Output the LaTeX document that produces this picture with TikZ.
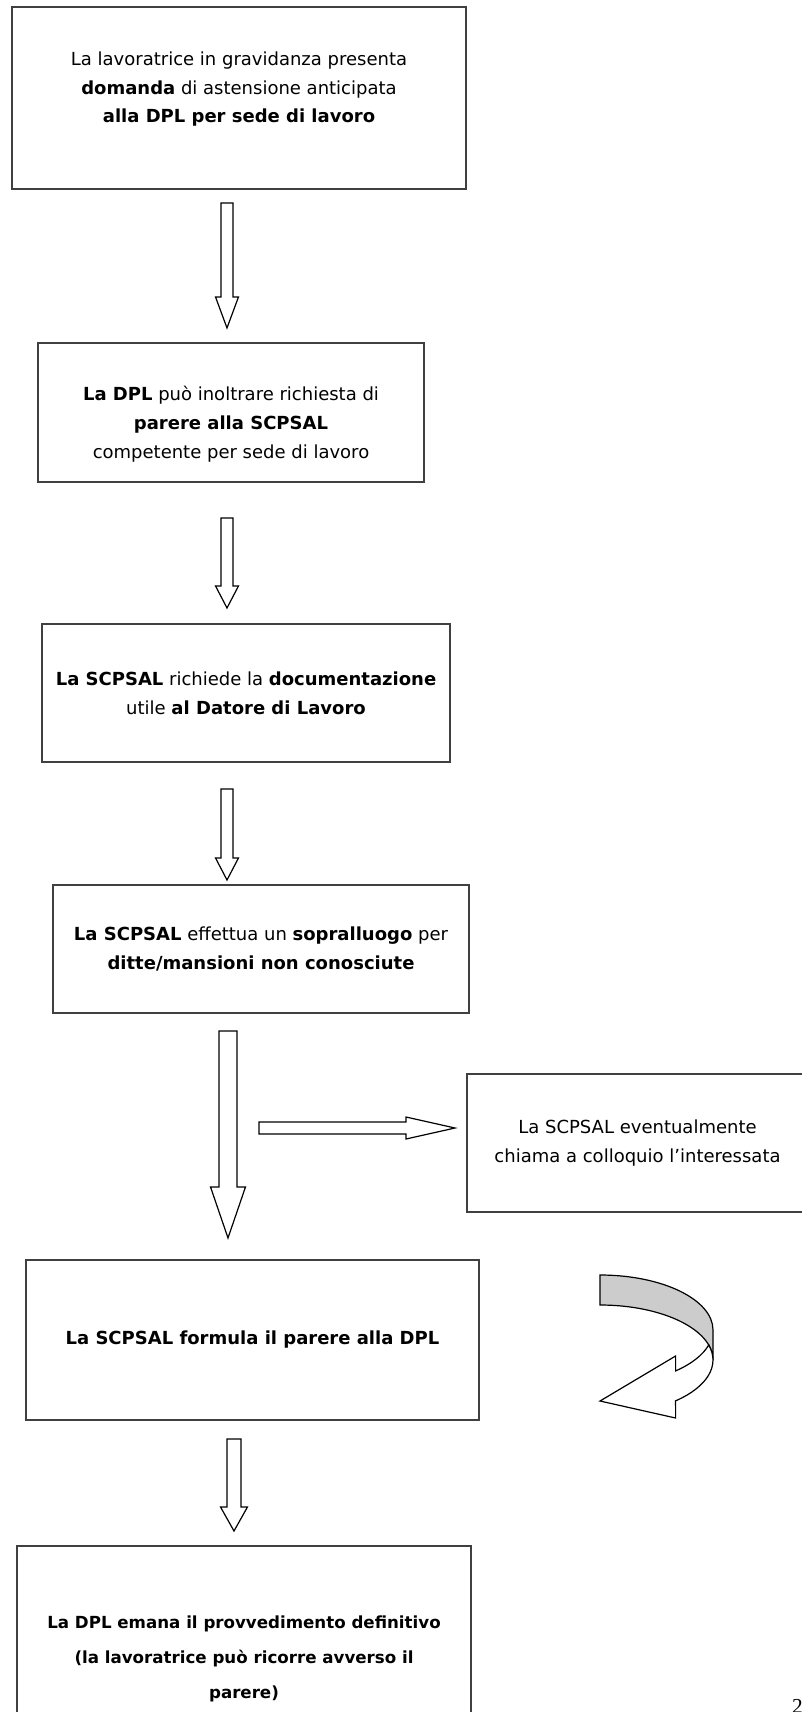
\documentclass[tikz,border=0pt]{standalone}
\usepackage{fontspec}
\setmainfont{DejaVu Sans}
\newfontfamily\pagefont{Liberation Serif}
\usetikzlibrary{calc}

\tikzset{
    stepbox/.style={draw=black!75, line width=0.8pt, align=center, inner sep=0pt,
        font=\fontsize{13.5}{21.5}\selectfont},
    blockarrow/.style={draw=black, fill=white, line width=0.9pt, line join=miter},
}

%% hollow block arrow: start, tip, half shaft width, half head width, head length
\newcommand{\blockarrow}[5]{%
    \coordinate (hb) at ($(#2)!#5!(#1)$);
    \draw[blockarrow] ($(#1)!#3!90:(#2)$) -- ($(hb)!#3!90:(#2)$) -- ($(hb)!#4!90:(#2)$)
        -- (#2) -- ($(hb)!#4!-90:(#2)$) -- ($(hb)!#3!-90:(#2)$) -- ($(#1)!#3!-90:(#2)$) -- cycle;
}

\begin{document}
\begin{tikzpicture}[x=0.75pt, y=-0.75pt]
    \useasboundingbox (0,0) rectangle (802,1712);

    %% the boxes of the procedure
    \node[stepbox, minimum width=340.5pt, minimum height=136.5pt] (domanda) at (239,98)
        {La lavoratrice in gravidanza presenta\\ \textbf{domanda} di astensione anticipata\\ \textbf{alla DPL per sede di lavoro}\rule[-16pt]{0pt}{0pt}};
    \node[stepbox, minimum width=289.5pt, minimum height=104.25pt] (richiesta) at (231,412.5)
        {\rule{0pt}{28.5pt}\textbf{La DPL} può inoltrare richiesta di\\ \textbf{parere alla SCPSAL}\\ competente per sede di lavoro};
    \node[stepbox, minimum width=306pt, minimum height=103.5pt] (documenti) at (246,693)
        {\textbf{La SCPSAL} richiede la \textbf{documentazione}\\ utile \textbf{al Datore di Lavoro}};
    \node[stepbox, minimum width=312pt, minimum height=96pt] (sopralluogo) at (261,949)
        {\textbf{La SCPSAL} effettua un \textbf{sopralluogo} per\\ \textbf{ditte/mansioni non conosciute}};
    \node[stepbox, minimum width=255.75pt, minimum height=103.5pt] (colloquio) at (637.5,1143)
        {La SCPSAL eventualmente\\ chiama a colloquio l’interessata};
    \node[stepbox, minimum width=339.75pt, minimum height=120pt] (parere) at (252.5,1340)
        {\textbf{La SCPSAL formula il parere alla DPL}};
    \node[stepbox, minimum width=340.5pt, minimum height=169.5pt, font=\fontsize{12.5}{26}\selectfont] (provvedimento) at (244,1659)
        {\textbf{La DPL emana il provvedimento definitivo}\\ \textbf{(la lavoratrice può ricorre avverso il}\\ \textbf{parere)}};

    %% block arrows between the boxes
    \coordinate (a1s) at (227,203);   \coordinate (a1t) at (227,328);
    \coordinate (a2s) at (227,518);   \coordinate (a2t) at (227,608);
    \coordinate (a3s) at (227,789);   \coordinate (a3t) at (227,880);
    \coordinate (a4s) at (228,1031);  \coordinate (a4t) at (228,1238);
    \coordinate (a5s) at (259,1128);  \coordinate (a5t) at (455,1128);
    \coordinate (a6s) at (234,1439);  \coordinate (a6t) at (234,1531);
    \blockarrow{a1s}{a1t}{4.5pt}{8.6pt}{23.25pt}
    \blockarrow{a2s}{a2t}{4.5pt}{8.6pt}{16.5pt}
    \blockarrow{a3s}{a3t}{4.5pt}{8.6pt}{16.5pt}
    \blockarrow{a4s}{a4t}{6.75pt}{13.1pt}{38.25pt}
    \blockarrow{a5s}{a5t}{4.5pt}{8.25pt}{36.75pt}
    \blockarrow{a6s}{a6t}{5.25pt}{10.1pt}{18pt}

    %% curved arrow back to the DPL
    \draw[blockarrow, fill=gray!40] (600,1275) arc[start angle=-90, end angle=0, x radius=113, y radius=55]
        -- (713,1360) arc[start angle=0, end angle=-90, x radius=113, y radius=55] -- cycle;
    \draw[blockarrow] (708.7,1345) arc[start angle=-15.8, end angle=48, x radius=113, y radius=55]
        -- (675.6,1418) -- (600,1401) -- (675.6,1356)
        -- (675.6,1370.9) arc[start angle=48, end angle=15.8, x radius=113, y radius=55] -- cycle;

    %% page number
    \node[font=\pagefont\fontsize{16}{16}\selectfont, anchor=north east, inner sep=0pt] (pagina) at (803,1699) {2};
\end{tikzpicture}
\end{document}
